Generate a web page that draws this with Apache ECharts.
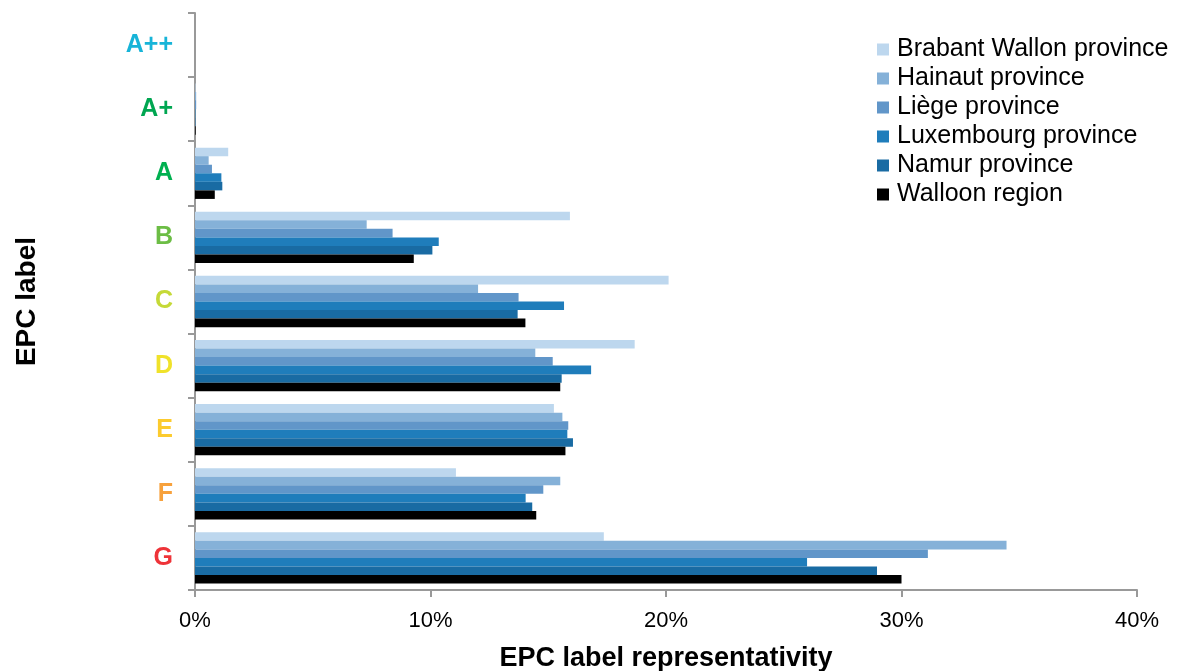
<!DOCTYPE html>
<html>
<head>
<meta charset="utf-8">
<script src="https://cdn.jsdelivr.net/npm/echarts@6/dist/echarts.min.js"></script>
<style>
  html, body { margin: 0; padding: 0; background: #fff; }
  #chart { width: 1180px; height: 671px; }
</style>
</head>
<body>
<div id="chart"></div>
<script>
// EPC labels, best to worst
const labels = ['A++', 'A+', 'A', 'B', 'C', 'D', 'E', 'F', 'G'];
const labelColors = ['#17B4D8', '#00A651', '#00B050', '#6CBD45', '#C5D937', '#F0E22A', '#FCCB2E', '#F7A13C', '#EE3338'];

// Share of certificates per label (%)
const brabantWallon = [0, 0.02, 1.41, 15.92, 20.11, 18.67, 15.24, 11.08, 17.36];
const hainaut       = [0, 0.05, 0.58, 7.29, 12.02, 14.45, 15.60, 15.51, 34.46];
const liege         = [0, 0.05, 0.72, 8.39, 13.74, 15.19, 15.85, 14.79, 31.12];
const luxembourg    = [0, 0.02, 1.12, 10.35, 15.67, 16.82, 15.81, 14.04, 25.99];
const namur         = [0, 0.02, 1.16, 10.08, 13.70, 15.57, 16.05, 14.32, 28.96];
const walloon       = [0, 0.03, 0.84, 9.29, 14.03, 15.51, 15.73, 14.49, 30.00];

const seriesNames = ['Brabant Wallon province', 'Hainaut province', 'Liège province',
                     'Luxembourg province', 'Namur province', 'Walloon region'];
const seriesData = [brabantWallon, hainaut, liege, luxembourg, namur, walloon];
const seriesColors = ['#BDD7EE', '#85B1D8', '#6196C9', '#1F7DBB', '#196BA3', '#000000'];

const xTicks = [0, 10, 20, 30, 40];

const chart = echarts.init(document.getElementById('chart'));
const font = 'Liberation Sans, Arial, sans-serif';

chart.setOption({
  animation: false,
  textStyle: { fontFamily: font },
  grid: { left: 195, right: 43, top: 13, bottom: 81, containLabel: false, outerBoundsMode: 'none' },
  legend: {
    orient: 'vertical',
    left: 877,
    top: 37,
    padding: 0,
    itemWidth: 12,
    itemHeight: 12,
    itemGap: 4,
    icon: 'rect',
    data: seriesNames,
    textStyle: { fontFamily: font, fontSize: 25, color: '#000', padding: [0, 0, 0, 3] }
  },
  xAxis: {
    type: 'value',
    min: xTicks[0],
    max: xTicks[xTicks.length - 1],
    interval: 10,
    name: 'EPC label representativity',
    nameLocation: 'middle',
    nameGap: 55,
    nameTextStyle: { fontFamily: font, fontSize: 27, fontWeight: 'bold', color: '#000' },
    axisLine: { show: true, lineStyle: { color: '#999', width: 2 } },
    axisTick: { show: true, length: 7, lineStyle: { color: '#999', width: 2 } },
    splitLine: { show: false },
    axisLabel: { fontSize: 22, color: '#000', margin: 20, formatter: v => v + '%' }
  },
  yAxis: {
    type: 'category',
    inverse: true,
    data: labels.map((l, i) => ({ value: l, textStyle: { color: labelColors[i] } })),
    name: 'EPC label',
    nameLocation: 'middle',
    nameGap: 154,
    nameRotate: 90,
    nameTextStyle: { fontFamily: font, fontSize: 28, fontWeight: 'bold', color: '#000' },
    axisLine: { show: true, lineStyle: { color: '#999', width: 2 } },
    axisTick: { show: true, length: 7, lineStyle: { color: '#999', width: 2 } },
    axisLabel: { fontSize: 25, fontWeight: 'bold', margin: 22 }
  },
  series: seriesNames.map((name, i) => ({
    name: name,
    type: 'bar',
    data: seriesData[i],
    barGap: '0%',
    barCategoryGap: '20%',
    itemStyle: { color: seriesColors[i] }
  }))
});
</script>
</body>
</html>
